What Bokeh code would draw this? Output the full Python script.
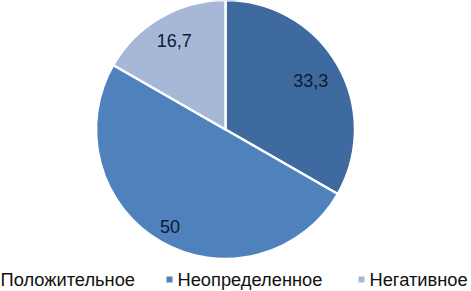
import numpy as np
from bokeh.plotting import figure
from bokeh.models import Range1d, ColumnDataSource
from bokeh.core.properties import value
from bokeh.embed import file_html
from bokeh.resources import INLINE

# ---- data ----
categories = ["Положительное", "Неопределенное", "Негативное"]
values = [33.3, 50, 16.7]
value_labels = ["33,3", "50", "16,7"]
colors = ["#3F6A9F", "#4F81BD", "#A6B7D7"]

# ---- layout ----
W, H = 471, 291
cx, cy, r = 225, 162, 129.5
label_frac = np.array([0.76, 0.86, 0.79])
font = value("Liberation Sans")

p = figure(width=W, height=H, x_range=Range1d(0, W), y_range=Range1d(0, H),
           output_backend="svg", toolbar_location=None, min_border=0,
           x_axis_location=None, y_axis_location=None)
p.grid.visible = False
p.outline_line_color = None
p.background_fill_color = "white"
p.border_fill_color = "white"

total = float(sum(values))
cum = np.cumsum([0.0] + list(values))
start = np.pi / 2 - 2 * np.pi * cum[:-1] / total
end = np.pi / 2 - 2 * np.pi * cum[1:] / total
mid = (start + end) / 2

src = ColumnDataSource(dict(
    start=start, end=end, color=colors,
    lx=cx + r * label_frac * np.cos(mid),
    ly=cy + r * label_frac * np.sin(mid),
    label=value_labels,
))
p.wedge(x=cx, y=cy, radius=r, start_angle="start", end_angle="end",
        direction="clock", fill_color="color", line_color="white",
        line_width=2.5, source=src)
p.text(x="lx", y="ly", text="label", source=src, text_font=font,
       text_font_size="18px", text_color="#0d1a33", text_align="center",
       text_baseline="middle")

# ---- legend ----
text_left = np.array([0, 177, 369])
leg = ColumnDataSource(dict(
    tx=text_left, mx=text_left - 8, y=[12] * 3, my=[12] * 3,
    name=categories, color=colors,
))
p.scatter(x="mx", y="my", marker="square", size=6, fill_color="color",
          line_color=None, source=leg)
p.text(x="tx", y="y", text="name", source=leg, text_font=font,
       text_font_size="18.3px", text_color="#111111", text_align="left",
       text_baseline="middle")

open("out.html", "w").write(file_html(p, INLINE))
